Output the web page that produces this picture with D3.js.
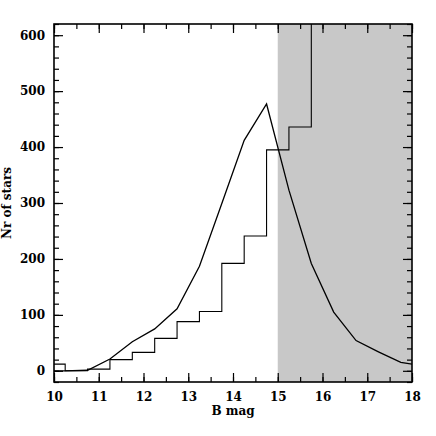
<!DOCTYPE html>
<html>
<head>
<meta charset="utf-8">
<script src="https://cdn.jsdelivr.net/npm/d3@7"></script>
<style>
  body { margin: 0; background: #fff; }
  text { font-family: "DejaVu Serif", serif; font-weight: bold; font-size: 12px; fill: #000; }
</style>
</head>
<body>
<div class="chart_area"></div>
<script>
// smooth curve: magnitude and star counts
var curveMag = [9.75, 10.25, 10.75, 11.25, 11.75, 12.25, 12.75, 13.25, 13.75, 14.25, 14.75, 15.25, 15.75, 16.25, 16.75, 17.25, 17.75, 18.0];
var curveCount = [0, 0, 1, 21, 52, 75, 111, 187, 299, 412, 477, 323, 192, 105, 54, 34, 15, 12];

// histogram: bin edges (left) and counts, bins 0.5 mag wide
var binLeft = [9.75, 10.25, 10.75, 11.25, 11.75, 12.25, 12.75, 13.25, 13.75, 14.25, 14.75, 15.25, 15.75];
var binCount = [12, 0, 3, 20, 33, 58, 88, 106, 192, 241, 395, 436, 900];
var binWidth = 0.5;

// shaded (incomplete) region
var shadeRange = [15, 18];

var xTicks = [10, 11, 12, 13, 14, 15, 16, 17, 18];
var yTicks = [0, 100, 200, 300, 400, 500, 600];

var margin = {top: 24, right: 24, bottom: 54, left: 54},
    width = 436 - margin.left - margin.right,
    height = 436 - margin.top - margin.bottom;

var svg = d3.select(".chart_area").append("svg")
   .attr("width", 436)
   .attr("height", 436)
  .append("g")
   .attr("transform", "translate(" + margin.left + "," + margin.top + ")");

var x = d3.scaleLinear().domain([10, 18]).range([0, width]);
var y = d3.scaleLinear().domain([-20, 620]).range([height, 0]);

svg.append("clipPath").attr("id", "clip")
  .append("rect").attr("width", width).attr("height", height);

// grey band
svg.append("rect")
  .attr("x", x(shadeRange[0]))
  .attr("y", 0)
  .attr("width", x(shadeRange[1]) - x(shadeRange[0]))
  .attr("height", height)
  .attr("fill", "#c8c8c8");

var plot = svg.append("g").attr("clip-path", "url(#clip)");

// histogram drawn as a step line
var steps = [];
binLeft.forEach(function(b, i) {
  steps.push([b, binCount[i]]);
  steps.push([b + binWidth, binCount[i]]);
});
plot.append("path")
  .datum(steps)
  .attr("fill", "none")
  .attr("stroke", "#000")
  .attr("stroke-width", 1.1)
  .attr("d", d3.line().x(d => x(d[0])).y(d => y(d[1])));

plot.append("path")
  .datum(curveMag.map((m, i) => [m, curveCount[i]]))
  .attr("fill", "none")
  .attr("stroke", "#000")
  .attr("stroke-width", 1.3)
  .attr("d", d3.line().x(d => x(d[0])).y(d => y(d[1])));

// ticks pointing inward on all four sides
var xMinor = d3.range(10, 18.01, 0.5);
var yMinor = d3.range(-20, 621, 20);

function tickAxis(axis, scale, major, minor, fmt, pad) {
  return function(g) {
    g.call(axis(scale).tickValues(minor).tickSize(-5).tickFormat(""));
    g.append("g").call(axis(scale).tickValues(major).tickSize(-9).tickPadding(pad).tickFormat(fmt));
    g.selectAll(".domain").remove();
    g.selectAll("line").attr("stroke", "#000").attr("stroke-width", 1.2);
    g.selectAll("text")
      .style("font-family", "DejaVu Serif")
      .style("font-weight", "bold")
      .style("font-size", "12px");
  };
}

svg.append("g").attr("transform", "translate(0," + height + ")")
  .call(tickAxis(d3.axisBottom, x, xTicks, xMinor, d3.format("d"), 10));
svg.append("g")
  .call(tickAxis(d3.axisTop, x, xTicks, xMinor, "", 0));
svg.append("g")
  .call(tickAxis(d3.axisLeft, y, yTicks, yMinor, d3.format("d"), 9));
svg.append("g").attr("transform", "translate(" + width + ",0)")
  .call(tickAxis(d3.axisRight, y, yTicks, yMinor, "", 0));

svg.append("rect")
  .attr("width", width).attr("height", height)
  .attr("fill", "none").attr("stroke", "#000").attr("stroke-width", 1.6);

svg.append("text")
  .attr("x", width / 2)
  .attr("y", height + 33)
  .attr("text-anchor", "middle")
  .text("B mag");

svg.append("text")
  .attr("transform", "translate(" + (-43) + "," + (height / 2) + ") rotate(-90)")
  .attr("text-anchor", "middle")
  .text("Nr of stars");
</script>
</body>
</html>
